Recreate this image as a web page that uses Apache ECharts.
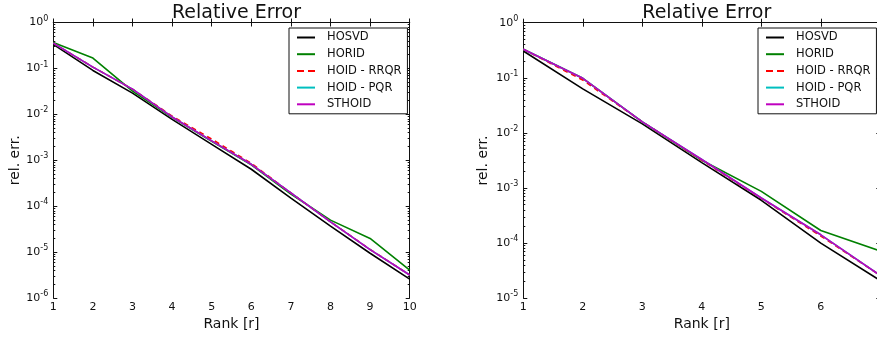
<!DOCTYPE html>
<html><head><meta charset="utf-8">
<script src="https://cdn.jsdelivr.net/npm/echarts@6/dist/echarts.min.js"></script>
<style>html,body{margin:0;padding:0;background:#fff}#c{width:877px;height:337px}</style>
</head><body><div id="c"></div><script>
// ---- data ----
const seriesNames = ['HOSVD', 'HORID', 'HOID - RRQR', 'HOID - PQR', 'STHOID'];
const seriesColors = ['#000000', '#008000', '#ff0000', '#00bfbf', '#bf00bf'];
const ranksL = [1, 2, 3, 4, 5, 6, 7, 8, 9, 10];
const hosvdL  = [0.333, 0.0905, 0.029, 0.0078, 0.00223, 6.4e-4, 1.5e-4, 3.7e-5, 9.5e-6, 2.6e-6];
const horidL  = [0.367, 0.168, 0.032, 0.0086, 0.0026, 8.0e-4, 1.85e-4, 5.0e-5, 2.0e-5, 4.1e-6];
const rrqrL   = [0.355, 0.107, 0.0355, 0.0092, 0.0029, 8.6e-4, 1.95e-4, 4.6e-5, 1.15e-5, 3.2e-6];
const pqrL    = [0.355, 0.107, 0.0355, 0.0088, 0.00265, 8.2e-4, 1.95e-4, 4.6e-5, 1.14e-5, 3.2e-6];
const sthoidL = [0.355, 0.107, 0.0355, 0.0088, 0.00265, 8.2e-4, 1.95e-4, 4.6e-5, 1.14e-5, 3.2e-6];
const ranksR = [1, 2, 3, 4, 5, 6, 7];
const hosvdR  = [0.307, 0.063, 0.0146, 0.0029, 6.0e-4, 1.0e-4, 2.1e-5];
const horidR  = [0.33, 0.098, 0.0159, 0.0032, 8.7e-4, 1.7e-4, 7.2e-5];
const rrqrR   = [0.33, 0.091, 0.0159, 0.0032, 6.5e-4, 1.35e-4, 2.6e-5];
const pqrR    = [0.33, 0.098, 0.0159, 0.0033, 6.6e-4, 1.42e-4, 2.6e-5];
const sthoidR = [0.33, 0.098, 0.0159, 0.0033, 6.6e-4, 1.42e-4, 2.6e-5];
const yExpL = [-6, 0];
const yExpR = [-5, 0];
const titleText = 'Relative Error';
const xName = 'Rank [r]';
const yName = 'rel. err.';

const FONT = '"DejaVu Sans", sans-serif';
const dataL = [hosvdL, horidL, rrqrL, pqrL, sthoidL];
const dataR = [hosvdR, horidR, rrqrR, pqrR, sthoidR];

function minorVals(e0, e1) {
  const out = [];
  for (let e = e0; e < e1; e++) for (let k = 2; k <= 9; k++) out.push(e + Math.log10(k));
  return out;
}
const spine = {show: true, lineStyle: {color: '#111', width: 1}};
const rich = {s: {fontSize: 8, fontFamily: FONT, color: '#111', padding: [0, 0, 8, 0]}};
function yLabel(v) { return '10{s|' + Math.round(Math.log10(v)) + '}'; }

function makeAxes(gi, xmax, exps, nameGapY) {
  const xs = [
    {type: 'value', gridIndex: gi, min: 1, max: xmax, interval: 1, position: 'bottom',
     axisLine: spine, axisTick: {inside: true, length: 4, lineStyle: {color: '#111'}},
     splitLine: {show: false},
     axisLabel: {fontSize: 11, fontFamily: FONT, color: '#111', margin: 3},
     name: xName, nameLocation: 'middle', nameGap: 17,
     nameTextStyle: {fontSize: 14, fontFamily: FONT, color: '#111'}},
    {type: 'value', gridIndex: gi, min: 1, max: xmax, interval: 1, position: 'top',
     axisLine: spine, axisTick: {inside: true, length: 4, lineStyle: {color: '#111'}},
     splitLine: {show: false}, axisLabel: {show: false}}
  ];
  const ys = [
    {type: 'log', logBase: 10, gridIndex: gi, min: Math.pow(10, exps[0]), max: Math.pow(10, exps[1]),
     position: 'left', axisLine: spine,
     axisTick: {inside: true, length: 4, lineStyle: {color: '#111'}},
     splitLine: {show: false},
     axisLabel: {fontSize: 11, fontFamily: FONT, color: '#111', margin: 5, formatter: yLabel, rich: rich},
     name: yName, nameLocation: 'middle', nameGap: nameGapY,
     nameTextStyle: {fontSize: 14, fontFamily: FONT, color: '#111'}},
    {type: 'log', logBase: 10, gridIndex: gi, min: Math.pow(10, exps[0]), max: Math.pow(10, exps[1]),
     position: 'right', axisLine: spine,
     axisTick: {inside: true, length: 4, lineStyle: {color: '#111'}},
     splitLine: {show: false}, axisLabel: {show: false}},
    {type: 'value', gridIndex: gi, min: exps[0], max: exps[1], position: 'left',
     axisLine: {show: false}, splitLine: {show: false}, axisLabel: {show: false},
     axisTick: {inside: true, length: 2, customValues: minorVals(exps[0], exps[1]), lineStyle: {color: '#111'}}},
    {type: 'value', gridIndex: gi, min: exps[0], max: exps[1], position: 'right',
     axisLine: {show: false}, splitLine: {show: false}, axisLabel: {show: false},
     axisTick: {inside: true, length: 2, customValues: minorVals(exps[0], exps[1]), lineStyle: {color: '#111'}}}
  ];
  return {xs, ys};
}
const aL = makeAxes(0, 10, yExpL, 28);
const aR = makeAxes(1, 7, yExpR, 33);

function makeSeries(ranks, data, xi, yi) {
  return seriesNames.map((n, i) => ({
    name: n, type: 'line', xAxisIndex: xi, yAxisIndex: yi,
    data: ranks.map((r, j) => [r, data[i][j]]),
    showSymbol: false, symbol: 'none', animation: false, z: 2 + i,
    lineStyle: {color: seriesColors[i], width: 1.6, type: i === 2 ? [5, 4] : 'solid'},
    itemStyle: {color: seriesColors[i]}
  }));
}

const SOLID_ICON = 'path://M0,0H18V2H0Z';
const DASH_ICON = 'path://M0,0H7V2H0Z M11,0H18V2H11Z';
function legendAt(left) {
  return {
    left: left, top: 28, orient: 'vertical',
    data: seriesNames.map((n, i) => ({name: n, icon: i === 2 ? DASH_ICON : SOLID_ICON,
      itemStyle: {color: seriesColors[i], borderWidth: 0}})),
    backgroundColor: '#fff', borderColor: '#111', borderWidth: 1, borderRadius: 0,
    padding: [3, 6, 3, 8], itemWidth: 18, itemHeight: 2, itemGap: 3.7,
    textStyle: {fontSize: 11.5, fontFamily: FONT, color: '#111', lineHeight: 13, padding: [0, 0, 0, 7]},
    selectedMode: false
  };
}

const chart = echarts.init(document.getElementById('c'), null, {renderer: 'canvas'});
chart.setOption({
  animation: false,
  backgroundColor: '#fff',
  title: [
    {text: titleText, left: 231.5, top: -1, textAlign: 'center',
     textStyle: {fontSize: 19, fontWeight: 'normal', fontFamily: FONT, color: '#111'}},
    {text: titleText, left: 701.8, top: -1, textAlign: 'center',
     textStyle: {fontSize: 19, fontWeight: 'normal', fontFamily: FONT, color: '#111'}}
  ],
  grid: [
    {left: 53.3, top: 22.5, width: 356.4, height: 275.7, outerBoundsMode: 'none', containLabel: false},
    {left: 523.3, top: 22.7, width: 357, height: 275.6, outerBoundsMode: 'none', containLabel: false}
  ],
  xAxis: aL.xs.concat(aR.xs),
  yAxis: aL.ys.concat(aR.ys),
  legend: [legendAt(289), legendAt(758)],
  series: makeSeries(ranksL, dataL, 0, 0).concat(makeSeries(ranksR, dataR, 2, 4))
});
</script></body></html>
